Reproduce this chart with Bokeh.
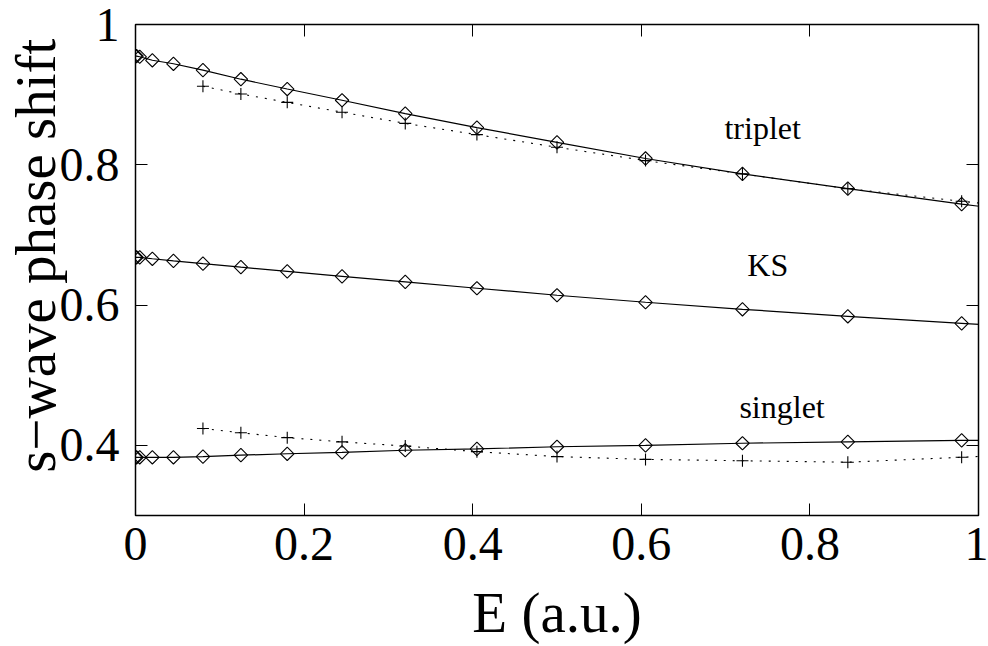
import math
from bokeh.plotting import figure
from bokeh.models import (Range1d, FixedTicker, LinearAxis, CustomJSTickFormatter,
                          ColumnDataSource)
from bokeh.core.properties import value
from bokeh.embed import file_html
from bokeh.resources import INLINE

# ---- data ----
energy = [0.0, 0.00125, 0.005, 0.02, 0.045, 0.08, 0.125, 0.18, 0.245, 0.32,
          0.405, 0.5, 0.605, 0.72, 0.845, 0.98, 1.125]
triplet_calc = [0.955, 0.955, 0.954, 0.949, 0.944, 0.935, 0.922, 0.908, 0.892,
                0.873, 0.853, 0.832, 0.809, 0.787, 0.766, 0.744, 0.722]
ks_calc = [0.668, 0.668, 0.668, 0.666, 0.663, 0.659, 0.654, 0.648, 0.641,
           0.633, 0.624, 0.614, 0.604, 0.594, 0.584, 0.574, 0.563]
singlet_calc = [0.383, 0.383, 0.383, 0.383, 0.383, 0.384, 0.386, 0.388, 0.390,
                0.393, 0.395, 0.398, 0.400, 0.403, 0.405, 0.407, 0.408]

energy_ref = [0.08, 0.125, 0.18, 0.245, 0.32, 0.405, 0.5, 0.605, 0.72, 0.845,
              0.98, 1.125]
triplet_ref = [0.912, 0.901, 0.889, 0.875, 0.859, 0.843, 0.825, 0.806, 0.787,
               0.766, 0.748, 0.730]
singlet_ref = [0.424, 0.418, 0.411, 0.405, 0.399, 0.391, 0.384, 0.380, 0.378,
               0.376, 0.383, 0.391]

label_text = ["triplet", "KS", "singlet"]
label_x = [0.744, 0.750, 0.767]
label_y = [0.852, 0.657, 0.455]

x_ticks = [0, 0.2, 0.4, 0.6, 0.8, 1.0]
y_ticks = [0.4, 0.6, 0.8, 1.0]

FONT = "Liberation Serif"

p = figure(width=988, height=646, output_backend="svg", toolbar_location=None,
           x_range=Range1d(0, 1), y_range=Range1d(0.3, 1.0),
           min_border_left=135, min_border_right=10, min_border_top=24,
           min_border_bottom=130, background_fill_color="white",
           border_fill_color="white")
p.grid.visible = False
p.outline_line_color = "black"
p.outline_line_width = 1.5

fmt = CustomJSTickFormatter(code="""
    if (Math.abs(tick - Math.round(tick)) < 1e-9) { return String(Math.round(tick)); }
    return tick.toFixed(1);
""")

for ax, ticks in ((p.xaxis[0], x_ticks), (p.yaxis[0], y_ticks)):
    ax.ticker = FixedTicker(ticks=ticks)
    ax.formatter = fmt
    ax.major_tick_in = 12
    ax.major_tick_out = 0
    ax.minor_tick_line_color = None
    ax.axis_line_color = "black"
    ax.major_tick_line_color = "black"
    ax.major_label_text_font = FONT
    ax.major_label_text_font_size = "48px"
    ax.major_label_text_color = "black"
    ax.axis_label_text_font = FONT
    ax.axis_label_text_font_size = "57px"
    ax.axis_label_text_font_style = "normal"
    ax.axis_label_text_color = "black"

p.xaxis[0].axis_label = "E (a.u.)"
p.xaxis[0].major_label_standoff = 12
p.xaxis[0].axis_label_standoff = 18
# two leading no-break spaces nudge the visible label slightly upward, as in the reference
p.yaxis[0].axis_label = "\u00a0\u00a0s\u2212wave phase shift"
p.yaxis[0].major_label_standoff = 16
p.yaxis[0].axis_label_standoff = -10

# mirrored tick marks on top and right
for loc, ticks in (("above", x_ticks), ("right", y_ticks)):
    a = LinearAxis(ticker=FixedTicker(ticks=ticks), major_tick_in=12,
                   major_tick_out=0, minor_tick_line_color=None,
                   major_label_text_font_size="0px", major_label_text_color=None,
                   axis_line_color="black", major_tick_line_color="black")
    p.add_layout(a, loc)

# calculated curves (solid + diamonds)
for ys in (triplet_calc, ks_calc, singlet_calc):
    src = ColumnDataSource(dict(x=energy, y=ys))
    p.line("x", "y", source=src, line_color="black", line_width=1.2)
    p.scatter("x", "y", source=src, marker="square", angle=math.pi / 4,
              size=9.5, line_color="black", line_width=1.1, fill_color=None)

# reference curves (dotted + plus)
for ys in (triplet_ref, singlet_ref):
    src = ColumnDataSource(dict(x=energy_ref, y=ys))
    p.line("x", "y", source=src, line_color="black", line_width=1.1,
           line_dash="2 7")
    p.scatter("x", "y", source=src, marker="cross", size=12,
              line_color="black", line_width=1.1)

p.text(x=label_x, y=label_y, text=label_text, text_font=value(FONT),
       text_font_size="32px", text_align="center", text_baseline="middle",
       text_color="black")

open("out.html", "w").write(file_html(p, INLINE))
